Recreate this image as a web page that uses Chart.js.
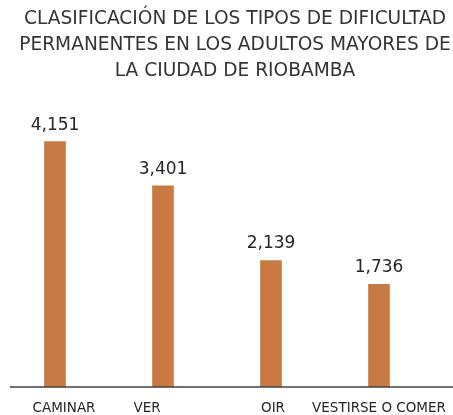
<!DOCTYPE html>
<html>
<head>
<meta charset="utf-8">
<script src="https://cdn.jsdelivr.net/npm/chart.js@4"></script>
<style>
  html, body { margin: 0; padding: 0; background: #fff; overflow: hidden; }
  #wrap { position: relative; width: 453px; height: 415px; overflow: hidden; }
  #titulo {
    position: absolute; left: 0; top: 5px; width: 470px;
    font-family: 'DejaVu Sans', sans-serif; font-size: 18.6px; line-height: 26px;
    color: #333; text-align: center; white-space: nowrap;
  }
</style>
</head>
<body>
<div id="wrap">
  <canvas id="grafico"></canvas>
  <div id="titulo"></div>
</div>
<script>
// Datos del gráfico
const categorias = ["CAMINAR", "VER", "OIR", "VESTIRSE O COMER"];
const valores = [4151, 3401, 2139, 1736];
const titulo = [
  "CLASIFICACIÓN DE LOS TIPOS DE DIFICULTAD",
  "PERMANENTES EN LOS ADULTOS MAYORES DE",
  "LA CIUDAD DE RIOBAMBA"
];

const fuente = "'DejaVu Sans', sans-serif";

document.getElementById('titulo').innerHTML = titulo.join('<br>');

// en el original las etiquetas no quedan centradas bajo las barras
const desfaseEtiquetas = [9, -16, 2, 0];

// etiquetas de valor encima de cada barra + categorías bajo el eje
const etiquetas = {
  id: 'etiquetas',
  afterDatasetsDraw(chart) {
    const ctx = chart.ctx;
    const meta = chart.getDatasetMeta(0);
    const xScale = chart.scales.x;
    ctx.save();
    ctx.fillStyle = '#262626';
    ctx.textAlign = 'center';
    ctx.font = "17px " + fuente;
    ctx.textBaseline = 'bottom';
    meta.data.forEach((bar, i) => {
      ctx.fillText(valores[i].toLocaleString('en-US'), bar.x, bar.y - 8);
    });
    ctx.font = "13.5px " + fuente;
    ctx.textBaseline = 'middle';
    categorias.forEach((c, i) => {
      ctx.fillText(c, xScale.getPixelForValue(i) + desfaseEtiquetas[i], chart.chartArea.bottom + 21);
    });
    ctx.restore();
  }
};

// línea base del eje x
const lineaBase = {
  id: 'lineaBase',
  afterDraw(chart) {
    const ctx = chart.ctx;
    const y = chart.scales.y.getPixelForValue(0);
    ctx.save();
    ctx.strokeStyle = '#404040';
    ctx.lineWidth = 1.5;
    ctx.beginPath();
    ctx.moveTo(10, y);
    ctx.lineTo(chart.width, y);
    ctx.stroke();
    ctx.restore();
  }
};

new Chart(document.getElementById('grafico'), {
  type: 'bar',
  data: {
    labels: categorias,
    datasets: [{
      data: valores,
      backgroundColor: '#c97a42',
      barThickness: 21
    }]
  },
  options: {
    responsive: true,
    maintainAspectRatio: false,
    animation: false,
    layout: { padding: { left: 1, right: 20, top: 118, bottom: 28 } },
    plugins: {
      legend: { display: false },
      tooltip: { enabled: false }
    },
    scales: {
      x: { display: false },
      y: { display: false, min: 0, max: 4550 }
    }
  },
  plugins: [etiquetas, lineaBase]
});
</script>
</body>
</html>
